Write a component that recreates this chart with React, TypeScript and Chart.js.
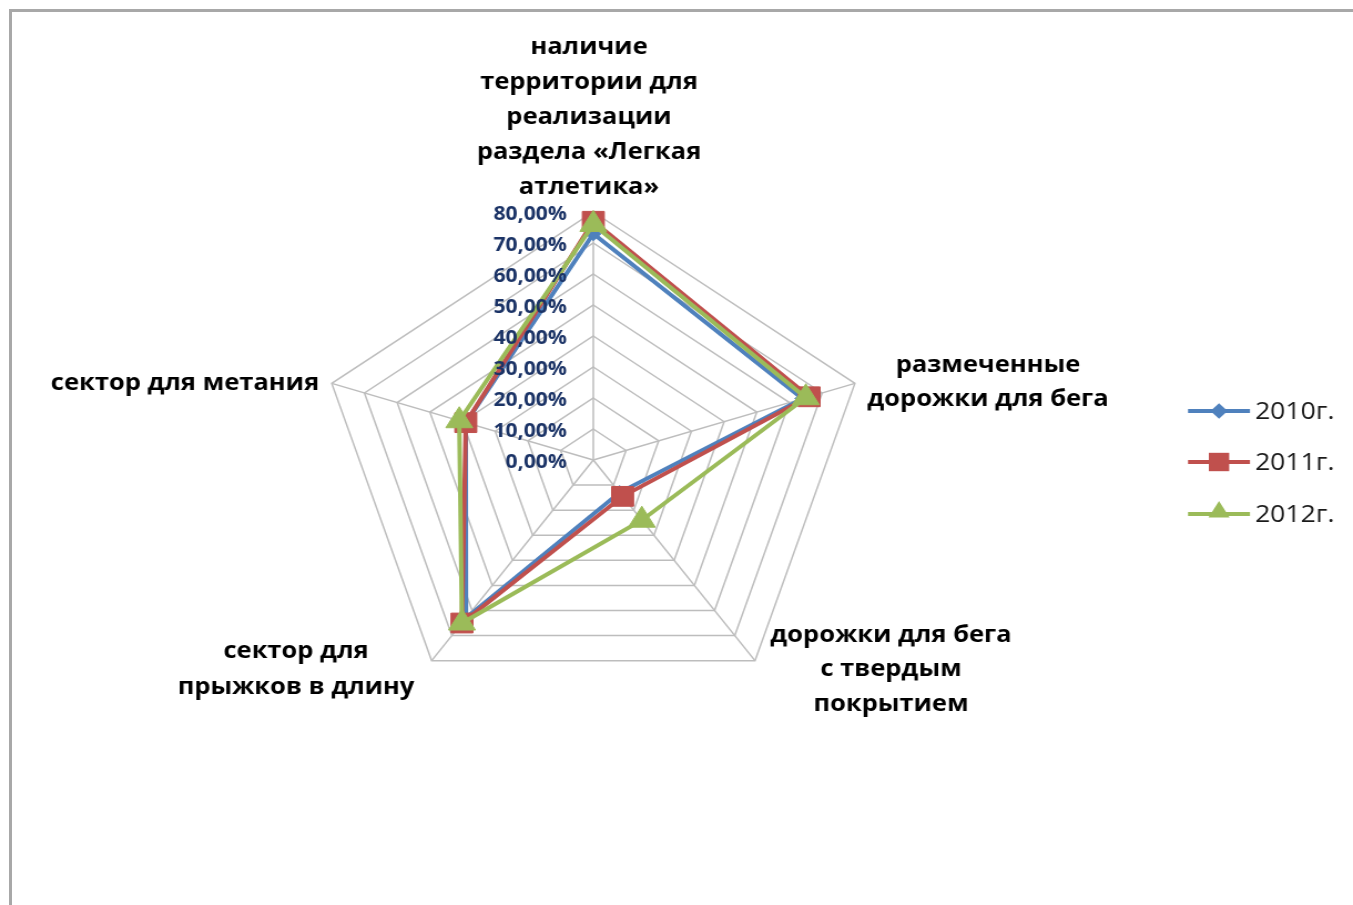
import React, { useEffect, useRef } from "react";
import { Chart, registerables } from "chart.js";

Chart.register(...registerables);

// ---- data ----
const categories: string[][] = [
  ["наличие", "территории для", "реализации", "раздела «Легкая", "атлетика»"],
  ["размеченные", "дорожки для бега"],
  ["дорожки для бега", "с твердым", "покрытием"],
  ["сектор для", "прыжков в длину"],
  ["сектор для метания"],
];
const seriesNames = ["2010г.", "2011г.", "2012г."];
const values2010 = [73, 64, 13, 63, 39];
const values2011 = [77, 66, 14.5, 65, 39];
const values2012 = [76, 65, 24, 65, 41];
const tickValues = [0, 10, 20, 30, 40, 50, 60, 70, 80];

const seriesColors = ["#4F81BD", "#C0504D", "#9BBB59"];
const seriesMarkers = ["rectRot", "rect", "triangle"];

// horizontal stretch of the reference picture
const SX = 1.109;
const CW = Math.round(1353 / SX);
const CH = 905;

const FONT = "'Open Sans', 'Noto Sans', sans-serif";

// label anchor positions (screen x of centre, y of each line)
const labelLayout = [
  { x: 589, ys: [47, 82, 117, 152, 187] },
  { x: 988, ys: [365, 399] },
  { x: 891, ys: [635, 669, 704] },
  { x: 296, ys: [651, 687] },
  { x: 185, ys: [383] },
];
const legendRows = [411, 462, 514];

function fmtPct(v: number) {
  return v.toFixed(2).replace(".", ",") + "%";
}

function drawMarker(ctx: CanvasRenderingContext2D, style: string, x: number, y: number, r: number, color: string) {
  ctx.save();
  ctx.fillStyle = color;
  ctx.beginPath();
  if (style === "rect") {
    const s = r / Math.SQRT2;
    ctx.rect(x - s, y - s, 2 * s, 2 * s);
  } else if (style === "rectRot") {
    const s = r / Math.SQRT2;
    ctx.moveTo(x - s, y);
    ctx.lineTo(x, y - s);
    ctx.lineTo(x + s, y);
    ctx.lineTo(x, y + s);
    ctx.closePath();
  } else {
    ctx.moveTo(x, y - r);
    ctx.lineTo(x + r * 0.866, y + r * 0.5);
    ctx.lineTo(x - r * 0.866, y + r * 0.5);
    ctx.closePath();
  }
  ctx.fill();
  ctx.restore();
}

const overlayPlugin = {
  id: "overlay",
  afterDatasetsDraw(chart: any) {
    const ctx: CanvasRenderingContext2D = chart.ctx;
    const scale = chart.scales.r;
    ctx.save();
    ctx.font = `bold 19px ${FONT}`;
    ctx.fillStyle = "#1B3366";
    ctx.textAlign = "right";
    ctx.textBaseline = "middle";
    tickValues.forEach((v) => {
      const p = scale.getPointPositionForValue(0, v);
      ctx.fillText(fmtPct(v), scale.xCenter - 24, p.y + 3);
    });
    ctx.restore();
  },
  afterDraw(chart: any) {
    const ctx: CanvasRenderingContext2D = chart.ctx;
    ctx.save();
    // category labels
    ctx.font = `bold 23px ${FONT}`;
    ctx.fillStyle = "#000000";
    ctx.textAlign = "center";
    ctx.textBaseline = "middle";
    categories.forEach((lines, i) => {
      const lay = labelLayout[i];
      lines.forEach((ln, j) => {
        ctx.fillText(ln, lay.x / SX, lay.ys[j]);
      });
    });
    // legend
    chart.data.datasets.forEach((ds: any, i: number) => {
      const y = legendRows[i];
      const x0 = 1188 / SX;
      const x1 = 1250 / SX;
      ctx.strokeStyle = ds.borderColor;
      ctx.lineWidth = 4;
      ctx.beginPath();
      ctx.moveTo(x0, y);
      ctx.lineTo(x1, y);
      ctx.stroke();
      const r = i === 0 ? 11 : i === 1 ? 13 : 11;
      drawMarker(ctx, seriesMarkers[i], (x0 + x1) / 2, i === 2 ? y - 2 : y, r, ds.borderColor);
      ctx.fillStyle = "#1a1a1a";
      ctx.font = `24px ${FONT}`;
      ctx.textAlign = "left";
      ctx.textBaseline = "middle";
      ctx.fillText(ds.label, 1255 / SX, y + 1);
    });
    ctx.restore();
  },
};

export default function App() {
  const ref = useRef<HTMLCanvasElement | null>(null);

  useEffect(() => {
    if (!ref.current) return;
    const seriesValues = [values2010, values2011, values2012];
    const chart = new Chart(ref.current, {
      type: "radar",
      data: {
        labels: categories,
        datasets: seriesNames.map((name, i) => ({
          label: name,
          data: seriesValues[i],
          borderColor: seriesColors[i],
          backgroundColor: seriesColors[i],
          pointBackgroundColor: seriesColors[i],
          pointBorderColor: seriesColors[i],
          pointStyle: seriesMarkers[i] as any,
          pointRadius: i === 0 ? 7 : 14,
          pointBorderWidth: 1,
          borderWidth: 4,
          fill: false,
          tension: 0,
          order: 2 - i,
        })),
      },
      options: {
        responsive: false,
        animation: false,
        devicePixelRatio: 1,
        layout: { padding: { left: 287, right: CW - 287 - 496, top: 212, bottom: CH - 212 - 496 } },
        plugins: {
          legend: { display: false },
          tooltip: { enabled: false },
        },
        scales: {
          r: {
            min: 0,
            max: 80,
            ticks: { stepSize: 10, display: false },
            pointLabels: { display: false },
            grid: { color: "#bdbdbd", lineWidth: 1.5 },
            angleLines: { color: "#bdbdbd", lineWidth: 1.5 },
          },
        },
      },
      plugins: [overlayPlugin],
    });
    return () => chart.destroy();
  }, []);

  return (
    <div style={{ position: "absolute", left: 0, top: 0, width: 1353, height: 905, overflow: "hidden", background: "#fff" }}>
      <div
        style={{
          position: "absolute",
          left: 9,
          top: 9,
          width: 1400,
          height: 1000,
          borderTop: "3px solid #a8a8a8",
          borderLeft: "3px solid #a8a8a8",
        }}
      />
      <div
        style={{
          position: "absolute",
          left: 0,
          top: 0,
          width: CW,
          height: CH,
          transform: `scaleX(${SX})`,
          transformOrigin: "0 0",
        }}
      >
        <canvas ref={ref} width={CW} height={CH} style={{ display: "block", width: CW, height: CH }} />
      </div>
    </div>
  );
}
